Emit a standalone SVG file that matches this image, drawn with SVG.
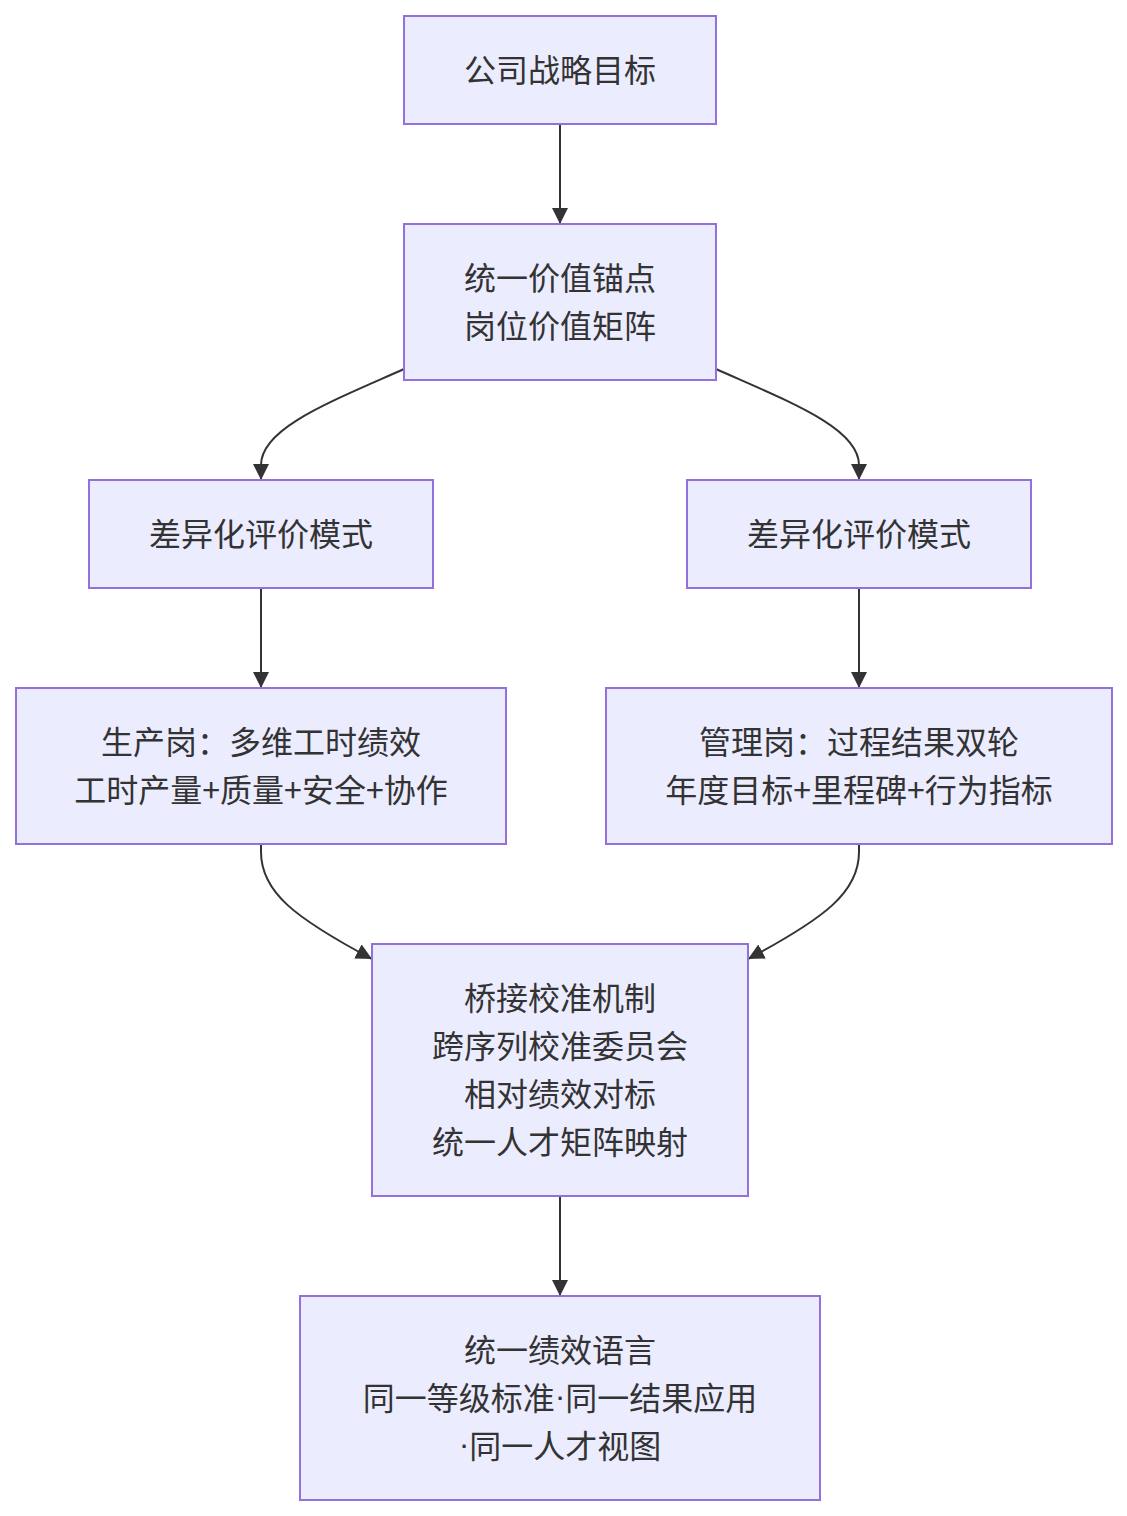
<svg xmlns="http://www.w3.org/2000/svg" width="1127" height="1516" viewBox="0 0 1127 1516">
<style>
.node rect{fill:#ECECFF;stroke:#9370DB;stroke-width:2}
.node text{font-family:"Noto Sans CJK SC","Noto Sans",sans-serif;font-size:32px;fill:#333;text-anchor:middle;dominant-baseline:central}
.dot{font-family:"Liberation Sans",sans-serif}
.edges path{fill:none;stroke:#333;stroke-width:2;marker-end:url(#arrow)}
</style>
<defs>
<marker id="arrow" viewBox="0 0 10 10" refX="10" refY="5" markerUnits="userSpaceOnUse" markerWidth="16" markerHeight="16" orient="auto">
<path d="M0,0 L10,5 L0,10 z" fill="#333"/>
</marker>
</defs>
<rect width="1127" height="1516" fill="#fff"/>
<g class="edges">
<path d="M560,124 L560,224"/>
<path d="M404,369 C330,402 261,428 261,465 L261,480"/>
<path d="M716,369 C790,402 859,428 859,465 L859,480"/>
<path d="M261,588 L261,688"/>
<path d="M859,588 L859,688"/>
<path d="M261,844 L261,852 C261,892 295,918 372,959"/>
<path d="M859,844 L859,852 C859,892 825,918 748,959"/>
<path d="M560,1196 L560,1296"/>
</g>
<g id="n1" class="node"><rect x="404" y="16" width="312" height="108"/><text x="560" y="68">公司战略目标</text></g>
<g id="n2" class="node"><rect x="404" y="224" width="312" height="156"/><text x="560" y="276">统一价值锚点</text><text x="560" y="324">岗位价值矩阵</text></g>
<g id="n3" class="node"><rect x="89" y="480" width="344" height="108"/><text x="261" y="532">差异化评价模式</text></g>
<g id="n4" class="node"><rect x="687" y="480" width="344" height="108"/><text x="859" y="532">差异化评价模式</text></g>
<g id="n5" class="node"><rect x="16" y="688" width="490" height="156"/><text x="261" y="740">生产岗：多维工时绩效</text><text x="261" y="788">工时产量+质量+安全+协作</text></g>
<g id="n6" class="node"><rect x="606" y="688" width="506" height="156"/><text x="859" y="740">管理岗：过程结果双轮</text><text x="859" y="788">年度目标+里程碑+行为指标</text></g>
<g id="n7" class="node"><rect x="372" y="944" width="376" height="252"/><text x="560" y="996">桥接校准机制</text><text x="560" y="1044">跨序列校准委员会</text><text x="560" y="1092">相对绩效对标</text><text x="560" y="1140">统一人才矩阵映射</text></g>
<g id="n8" class="node"><rect x="300" y="1296" width="520" height="204"/><text x="560" y="1348">统一绩效语言</text><text x="560" y="1396">同一等级标准<tspan class="dot">·</tspan>同一结果应用</text><text x="560" y="1444"><tspan class="dot">·</tspan>同一人才视图</text></g>
</svg>
